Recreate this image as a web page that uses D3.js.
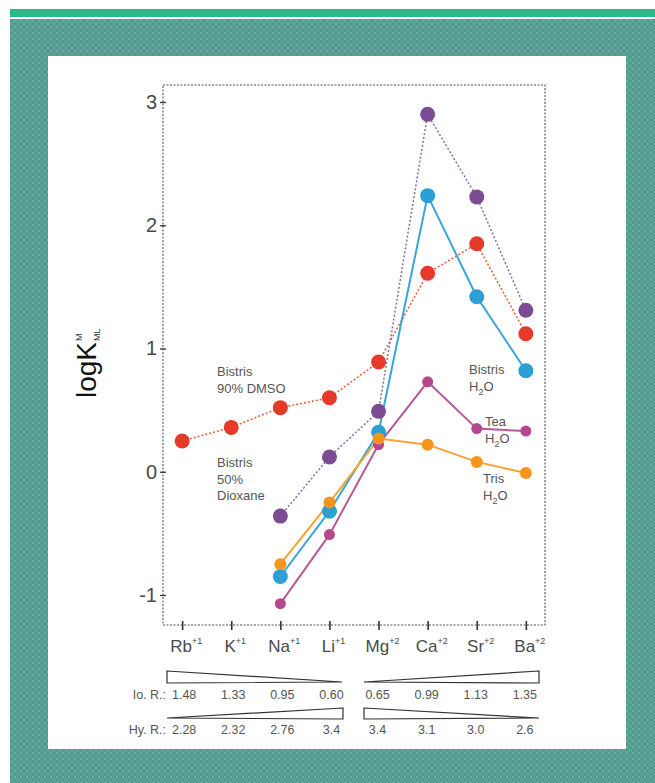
<!DOCTYPE html>
<html><head><meta charset="utf-8">
<script src="https://cdn.jsdelivr.net/npm/d3@7"></script>
<style>body{margin:0;background:#fff}svg{display:block}</style>
</head><body><svg id="c" width="655" height="783"></svg>
<script>
const categories = ["Rb","K","Na","Li","Mg","Ca","Sr","Ba"];
const charges = ["+1","+1","+1","+1","+2","+2","+2","+2"];
const dmso = [0.25,0.36,0.52,0.60,0.89,1.61,1.85,1.12];
const dioxane = [null,null,-0.36,0.12,0.49,2.90,2.23,1.31];
const bistrisH2O = [null,null,-0.85,-0.32,0.32,2.24,1.42,0.82];
const teaH2O = [null,null,-1.07,-0.51,0.22,0.73,0.35,0.33];
const trisH2O = [null,null,-0.75,-0.25,0.27,0.22,0.08,-0.01];
const yTicks = [3,2,1,0,-1];
const ionicRadii = ["1.48","1.33","0.95","0.60","0.65","0.99","1.13","1.35"];
const hydratedRadii = ["2.28","2.32","2.76","3.4","3.4","3.1","3.0","2.6"];

const svg = d3.select("#c");
const FONT = "'Liberation Sans', Arial, Helvetica, sans-serif";
const TXT = "#4a4a4a";

// background pattern
const defs = svg.append("defs");
const pat = defs.append("pattern").attr("id","teal").attr("width",6).attr("height",6).attr("patternUnits","userSpaceOnUse");
pat.append("rect").attr("width",6).attr("height",6).attr("fill","#519b92");
pat.append("path").attr("d","M0,0L6,6M6,0L0,6").attr("stroke","#72b49c").attr("stroke-width",1).attr("opacity",0.55);
pat.append("rect").attr("x",2.5).attr("y",2.5).attr("width",1).attr("height",1).attr("fill","#86c2a6");
pat.append("rect").attr("x",0).attr("y",0).attr("width",1).attr("height",1).attr("fill","#6aa3a8");

svg.append("rect").attr("x",10).attr("y",9).attr("width",645).attr("height",8).attr("fill","#2db88b");
svg.append("rect").attr("x",10).attr("y",19).attr("width",645).attr("height",764).attr("fill","url(#teal)");
svg.append("rect").attr("x",48).attr("y",56).attr("width",578).attr("height",693).attr("fill","#fff");

// scales
const x = d3.scalePoint().domain(categories).range([163,545]).padding(0.39);
const y = d3.scaleLinear().domain([-1,3]).range([595,102]);
const plotL = 163, plotR = 545, plotT = 85, plotB = 625;

// frame
svg.append("rect").attr("x",plotL).attr("y",plotT).attr("width",plotR-plotL).attr("height",plotB-plotT)
  .attr("fill","none").attr("stroke","#8a8a8a").attr("stroke-width",1.6).attr("stroke-dasharray","2,1.5");

// y axis ticks
const yAxis = d3.axisLeft(y).tickValues(yTicks).tickSize(6).tickFormat(d=>String(d));
const gy = svg.append("g").attr("transform",`translate(${plotL+3},0)`).call(yAxis);
gy.select(".domain").remove();
gy.selectAll(".tick line").attr("stroke","#333").attr("stroke-width",1.3);
gy.selectAll(".tick text").attr("font-family",FONT).attr("font-size",20).attr("fill",TXT).attr("x",-9);

// x axis ticks
const xAxis = d3.axisBottom(x).tickSize(9).tickFormat("");
const gx = svg.append("g").attr("transform",`translate(0,${plotB-4})`).call(xAxis);
gx.select(".domain").remove();
gx.selectAll(".tick line").attr("stroke","#333").attr("stroke-width",1.6);

// x labels
categories.forEach((c,i)=>{
  const t = svg.append("text").attr("x",x(c)+4).attr("y",652).attr("text-anchor","middle")
    .attr("font-family",FONT).attr("font-size",17).attr("fill",TXT);
  t.append("tspan").text(c);
  t.append("tspan").attr("font-size",9).attr("dy",-8).text(charges[i]);
});

// y label
const yl = svg.append("g").attr("transform","translate(96,354) rotate(-90)");
yl.append("text").attr("x",-44).attr("y",0).attr("font-family",FONT).attr("font-size",28).attr("fill","#111").text("logK");
yl.append("text").attr("x",13).attr("y",-14).attr("font-family",FONT).attr("font-size",9).attr("fill","#333").text("M");
yl.append("text").attr("x",13).attr("y",4).attr("font-family",FONT).attr("font-size",9).attr("fill","#333").text("ML");

// series
const series = [
  {vals: dmso, line:"#ef5a35", dot:"#e5392a", r:7.5, dash:"2,2", w:1.5},
  {vals: dioxane, line:"#8c67aa", dot:"#7b4c92", r:7.5, dash:"2,2", w:1.5},
  {vals: teaH2O, line:"#b65a96", dot:"#b4488c", r:5.5, dash:null, w:2},
  {vals: bistrisH2O, line:"#39a6d8", dot:"#2c9fd4", r:7.5, dash:null, w:2},
  {vals: trisH2O, line:"#f7a331", dot:"#f7941d", r:6, dash:null, w:2}
];
const line = d3.line().defined(d=>d.v!==null).x(d=>x(d.c)).y(d=>y(d.v));
series.forEach(s=>{
  const data = categories.map((c,i)=>({c, v:s.vals[i]}));
  svg.append("path").datum(data).attr("d",line).attr("fill","none").attr("stroke",s.line)
    .attr("stroke-width",s.w).attr("stroke-dasharray",s.dash);
});
series.forEach(s=>{
  const data = categories.map((c,i)=>({c, v:s.vals[i]})).filter(d=>d.v!==null);
  svg.append("g").selectAll("circle").data(data).join("circle")
    .attr("cx",d=>x(d.c)).attr("cy",d=>y(d.v)).attr("r",s.r).attr("fill",s.dot);
});

// annotations
function label(xx, yy, lines){
  lines.forEach((ln,i)=>{
    const t = svg.append("text").attr("x",xx).attr("y",yy+i*16.5).attr("font-family",FONT)
      .attr("font-size",13).attr("fill","#555");
    if (ln === "H2O") {
      t.append("tspan").text("H");
      t.append("tspan").attr("font-size",9).attr("dy",4).text("2");
      t.append("tspan").attr("dy",-4).text("O");
    } else t.text(ln);
  });
}
label(217,376,["Bistris","90% DMSO"]);
label(217,467,["Bistris","50%","Dioxane"]);
label(469,374,["Bistris","H2O"]);
label(485,426,["Tea","H2O"]);
label(483,483,["Tris","H2O"]);

// wedges
function wedge(x0,x1,y0,y1,wideLeft){
  const pts = wideLeft ? [[x0,y0],[x1,y1-1],[x0,y1]] : [[x1,y0],[x0,y1-1],[x1,y1]];
  svg.append("path").attr("d","M"+pts.map(p=>p.join(",")).join("L")+"Z")
    .attr("fill","#fff").attr("stroke","#333").attr("stroke-width",1.2);
}
wedge(167,342,671,683,true);
wedge(364,539,671,683,false);
wedge(167,343,708,719,false);
wedge(364,539,708,719,true);

function row(yy, name, vals){
  svg.append("text").attr("x",166).attr("y",yy).attr("text-anchor","end").attr("font-family",FONT)
    .attr("font-size",12.5).attr("fill","#555").text(name);
  svg.append("g").selectAll("text").data(vals).join("text")
    .attr("x",(d,i)=>x(categories[i])+(i<4?2:-1)).attr("y",yy).attr("text-anchor","middle")
    .attr("font-family",FONT).attr("font-size",12.5).attr("fill","#555").text(d=>d);
}
row(699,"Io. R.:",ionicRadii);
row(734,"Hy. R.:",hydratedRadii);
</script></body></html>
